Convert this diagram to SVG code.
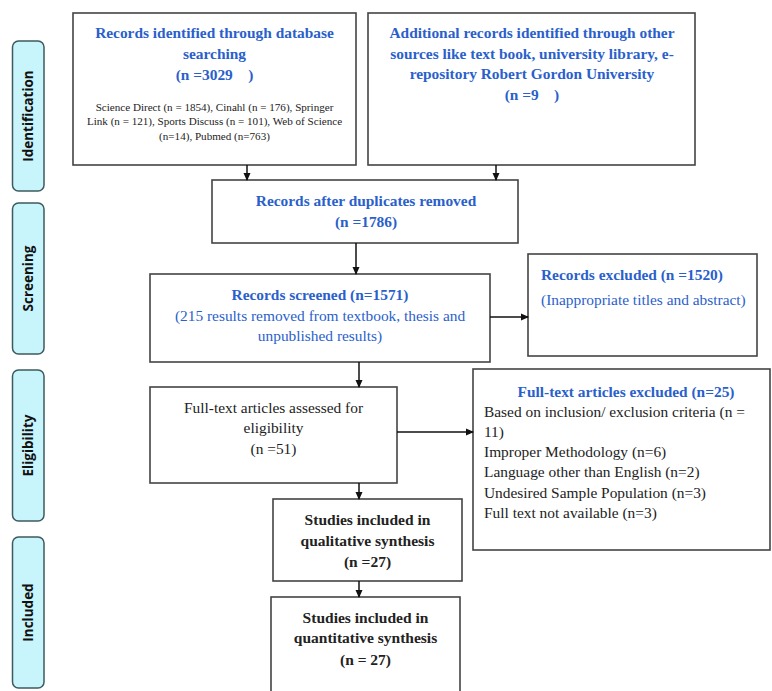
<svg xmlns="http://www.w3.org/2000/svg" width="772" height="691" viewBox="0 0 772 691">
<defs>
<marker id="arr" markerWidth="8" markerHeight="8" refX="7" refY="4" orient="auto" markerUnits="userSpaceOnUse">
<path d="M0,0.5 L8,4 L0,7.5 Z" fill="#111"/>
</marker>
<style>
.box{fill:#fff;stroke:#444;stroke-width:1.6}
.lab{fill:#c8f5fb;stroke:#3d5a5e;stroke-width:1.5}
.lt{font-family:"Open Sans","DejaVu Sans",sans-serif;font-weight:bold;font-size:13.5px;fill:#111;text-anchor:middle}
.bt{font-family:"Liberation Serif","Times New Roman",serif;font-weight:bold;font-size:15.4px;fill:#2a5fcc}
.nt{font-family:"Liberation Serif","Times New Roman",serif;font-size:15.4px;fill:#2a5fcc}
.kt{font-family:"Liberation Serif","Times New Roman",serif;font-size:15.4px;fill:#222}
.kb{font-family:"Liberation Serif","Times New Roman",serif;font-weight:bold;font-size:15.5px;fill:#222}
.st{font-family:"Liberation Serif","Times New Roman",serif;font-size:11.1px;fill:#222}
.c{text-anchor:middle}
.con{stroke:#111;stroke-width:1.5;fill:none;marker-end:url(#arr)}
</style>
</defs>
<rect width="772" height="691" fill="#fff"/>

<g id="stage-identification"><rect class="lab" x="12.5" y="41" width="31.5" height="150" rx="6"/><text class="lt" transform="translate(33,116) rotate(-90)">Identification</text></g>
<g id="stage-screening"><rect class="lab" x="12.5" y="203" width="31.5" height="151" rx="6"/><text class="lt" transform="translate(33,278.5) rotate(-90)">Screening</text></g>
<g id="stage-eligibility"><rect class="lab" x="12.5" y="370" width="31.5" height="151" rx="6"/><text class="lt" transform="translate(33,445.5) rotate(-90)">Eligibility</text></g>
<g id="stage-included"><rect class="lab" x="12.5" y="537" width="31.5" height="151" rx="6"/><text class="lt" transform="translate(33,612.5) rotate(-90)">Included</text></g>

<g id="db-search"><rect class="box" x="73" y="13" width="283" height="152"/>
<text class="bt c" x="214.5" y="38">Records identified through database</text>
<text class="bt c" x="214.5" y="59">searching</text>
<text class="bt c" x="214.5" y="80" xml:space="preserve">(n =3029    )</text>
<text class="st c" x="214.5" y="110.5">Science Direct (n = 1854), Cinahl (n = 176), Springer</text>
<text class="st c" x="214.5" y="124.5">Link (n = 121), Sports Discuss (n = 101), Web of Science</text>
<text class="st c" x="214.5" y="139.5">(n=14), Pubmed (n=763)</text></g>

<g id="other-sources"><rect class="box" x="368" y="13" width="327" height="152"/>
<text class="bt c" x="532" y="38">Additional records identified through other</text>
<text class="bt c" x="532" y="58.5">sources like text book, university library, e-</text>
<text class="bt c" x="532" y="79">repository Robert Gordon University</text>
<text class="bt c" x="532" y="100" xml:space="preserve">(n =9    )</text></g>

<g id="duplicates-removed"><rect class="box" x="212" y="180" width="306" height="63"/>
<text class="bt c" x="366" y="206">Records after duplicates removed</text>
<text class="bt c" x="366" y="227">(n =1786)</text></g>

<g id="records-screened"><rect class="box" x="150" y="274" width="340" height="88"/>
<text class="bt c" x="320" y="300">Records screened (n=1571)</text>
<text class="nt c" x="320" y="321">(215 results removed from textbook, thesis and</text>
<text class="nt c" x="320" y="341">unpublished results)</text></g>

<g id="records-excluded"><rect class="box" x="528" y="254" width="229" height="102"/>
<text class="bt" x="541" y="280">Records excluded (n =1520)</text>
<text class="nt" x="541" y="305">(Inappropriate titles and abstract)</text></g>

<g id="fulltext-assessed"><rect class="box" x="150" y="387" width="247" height="96"/>
<text class="kt c" x="273.5" y="413">Full-text articles assessed for</text>
<text class="kt c" x="273.5" y="433">eligibility</text>
<text class="kt c" x="273.5" y="454">(n =51)</text></g>

<g id="fulltext-excluded"><rect class="box" x="473" y="369" width="297" height="181"/>
<text class="bt c" x="626" y="397">Full-text articles excluded (n=25)</text>
<text class="kt" x="484" y="417">Based on inclusion/ exclusion criteria (n =</text>
<text class="kt" x="484" y="437">11)</text>
<text class="kt" x="484" y="457">Improper Methodology (n=6)</text>
<text class="kt" x="484" y="477">Language other than English (n=2)</text>
<text class="kt" x="484" y="498">Undesired Sample Population (n=3)</text>
<text class="kt" x="484" y="518">Full text not available (n=3)</text></g>

<g id="qualitative"><rect class="box" x="273" y="499" width="189" height="82"/>
<text class="kb c" x="367.5" y="525">Studies included in</text>
<text class="kb c" x="367.5" y="546">qualitative synthesis</text>
<text class="kb c" x="367.5" y="567">(n =27)</text></g>

<g id="quantitative"><rect class="box" x="271" y="597" width="189" height="110"/>
<text class="kb c" x="365.5" y="623">Studies included in</text>
<text class="kb c" x="365.5" y="643">quantitative synthesis</text>
<text class="kb c" x="365.5" y="665">(n = 27)</text></g>

<g id="connectors">
<line class="con" x1="247" y1="165" x2="247" y2="180"/>
<line class="con" x1="496" y1="165" x2="496" y2="180"/>
<line class="con" x1="356" y1="243" x2="356" y2="274"/>
<line class="con" x1="490" y1="317" x2="528" y2="317"/>
<line class="con" x1="359" y1="362" x2="359" y2="387"/>
<line class="con" x1="397" y1="432" x2="473" y2="432"/>
<line class="con" x1="359" y1="483" x2="359" y2="499"/>
<line class="con" x1="359" y1="581" x2="359" y2="597"/>
</g>
</svg>
